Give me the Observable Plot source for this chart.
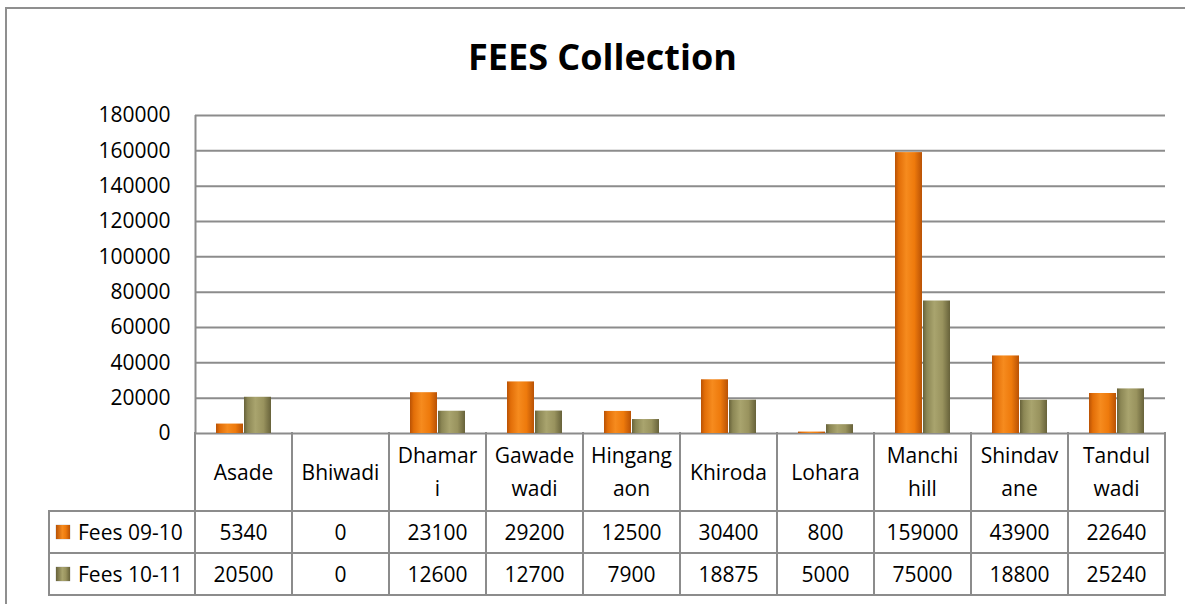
<!DOCTYPE html>
<html>
<head>
<meta charset="utf-8">
<script src="https://cdn.jsdelivr.net/npm/d3@7"></script>
<script src="https://cdn.jsdelivr.net/npm/@observablehq/plot@0.6"></script>
<style>
html, body { margin: 0; padding: 0; background: #fff; overflow: hidden; width: 1185px; height: 604px; }
body { position: relative; font-family: "Open Sans", sans-serif; color: #000; }
#frame { position: absolute; left: 5px; top: 7px; width: 1300px; height: 700px; border-left: 2px solid #8f8f8f; border-top: 2px solid #8f8f8f; box-sizing: border-box; }
#title { position: absolute; left: 10px; top: 39px; width: 1185px; text-align: center; font-size: 36px; line-height: 36px; font-weight: 700; }
#chart { position: absolute; left: 0; top: 100px; }
#chart svg { overflow: visible; }
.ln { position: absolute; background: #8c8c8c; }
.cell { position: absolute; display: flex; flex-direction: column; align-items: center; justify-content: center; font-size: 21px; line-height: 33px; text-align: center; }
.leg { position: absolute; display: flex; align-items: center; font-size: 21px; }
.sw { width: 14px; height: 14px; margin-right: 8px; box-shadow: 0 0 1px #888; }
</style>
</head>
<body>
<div id="frame"></div>
<div id="title">FEES Collection</div>
<div id="chart"></div>
<div id="table"></div>
<script>
// ---- data ----
const categories = ["Asade", "Bhiwadi", "Dhamari", "Gawadewadi", "Hingangaon", "Khiroda", "Lohara", "Manchi hill", "Shindavane", "Tandulwadi"];
const categoryLabels = ["Asade", "Bhiwadi", "Dhamar\ni", "Gawade\nwadi", "Hingang\naon", "Khiroda", "Lohara", "Manchi\nhill", "Shindav\nane", "Tandul\nwadi"];
const seriesNames = ["Fees 09-10", "Fees 10-11"];
const fees0910 = [5340, 0, 23100, 29200, 12500, 30400, 800, 159000, 43900, 22640];
const fees1011 = [20500, 0, 12600, 12700, 7900, 18875, 5000, 75000, 18800, 25240];
const yTicks = [0, 20000, 40000, 60000, 80000, 100000, 120000, 140000, 160000, 180000];

const rows0910 = categories.map((c, i) => ({cat: c, value: fees0910[i]}));
const rows1011 = categories.map((c, i) => ({cat: c, value: fees1011[i]}));

const W = 1185, mL = 195, mR = 20;
const step = (W - mL - mR) / categories.length;

const plot = Plot.plot({
  width: W,
  height: 343,
  marginLeft: mL,
  marginRight: mR,
  marginTop: 15,
  marginBottom: 10,
  style: {fontFamily: "Open Sans", fontSize: "21px", color: "#000", background: "transparent", overflow: "visible"},
  x: {domain: categories, padding: 0, axis: null},
  y: {domain: [0, 180000], ticks: yTicks, tickFormat: d => String(d), tickSize: 0, tickPadding: 25, label: null},
  marks: [
    Plot.ruleY(yTicks, {stroke: "#8c8c8c", strokeWidth: 2}),
    Plot.ruleX([categories[0]], {dx: -step / 2, stroke: "#8c8c8c", strokeWidth: 2}),
    Plot.barY(rows0910, {x: "cat", y: "value", fill: "url(#gOrange)", insetLeft: 21, insetRight: 49}),
    Plot.barY(rows1011, {x: "cat", y: "value", fill: "url(#gOlive)", insetLeft: 49, insetRight: 21})
  ]
});

d3.select(plot).insert("defs", ":first-child").html(`
  <linearGradient id="gOrange" x1="0" x2="1" y1="0" y2="0">
    <stop offset="0%" stop-color="#b95205"/>
    <stop offset="14%" stop-color="#e26e08"/>
    <stop offset="42%" stop-color="#f68b1e"/>
    <stop offset="72%" stop-color="#ee7a0c"/>
    <stop offset="100%" stop-color="#b95205"/>
  </linearGradient>
  <linearGradient id="gOlive" x1="0" x2="1" y1="0" y2="0">
    <stop offset="0%" stop-color="#67623a"/>
    <stop offset="14%" stop-color="#8c8755"/>
    <stop offset="42%" stop-color="#a9a46e"/>
    <stop offset="72%" stop-color="#99935e"/>
    <stop offset="100%" stop-color="#67623a"/>
  </linearGradient>`);

document.getElementById("chart").appendChild(plot);

// ---- data table aligned with the x scale ----
const xs = plot.scale("x");
const x0 = xs.range[0], x1 = xs.range[1], st = xs.step;
const top0 = 433, hdrH = 78, rowH = 42, legL = 49, lw = 2;
const tbl = d3.select("#table");
function line(x, y, w, h) {
  tbl.append("div").attr("class", "ln")
    .style("left", (x - lw / 2) + "px").style("top", (y - lw / 2) + "px")
    .style("width", (w + lw) + "px").style("height", (h + lw) + "px");
}
const yEnd = top0 + hdrH + 2 * rowH;
// vertical lines
for (let i = 0; i <= categories.length; i++) line(x0 + i * st, top0, 0, yEnd - top0);
line(legL, top0 + hdrH, 0, 2 * rowH);
// horizontal lines
line(legL, top0 + hdrH, x1 - legL, 0);
line(legL, top0 + hdrH + rowH, x1 - legL, 0);
line(legL, yEnd, x1 - legL, 0);

// header
categoryLabels.forEach((lab, i) => {
  const c = tbl.append("div").attr("class", "cell")
    .style("left", (x0 + i * st) + "px").style("top", top0 + "px")
    .style("width", st + "px").style("height", hdrH + "px");
  lab.split("\n").forEach(t => c.append("div").text(t));
});
// body rows
const series = [fees0910, fees1011];
const swatch = [
  "linear-gradient(90deg,#b95205,#f68b1e 45%,#ee7a0c 70%,#b95205)",
  "linear-gradient(90deg,#67623a,#a9a46e 45%,#99935e 70%,#67623a)"
];
series.forEach((vals, r) => {
  const y = top0 + hdrH + r * rowH;
  const lg = tbl.append("div").attr("class", "leg")
    .style("left", (legL + 7) + "px").style("top", y + "px").style("height", rowH + "px");
  lg.append("div").attr("class", "sw").style("background", swatch[r]);
  lg.append("div").text(seriesNames[r]);
  vals.forEach((v, i) => {
    tbl.append("div").attr("class", "cell")
      .style("left", (x0 + i * st) + "px").style("top", y + "px")
      .style("width", st + "px").style("height", rowH + "px")
      .text(String(v));
  });
});
</script>
</body>
</html>
